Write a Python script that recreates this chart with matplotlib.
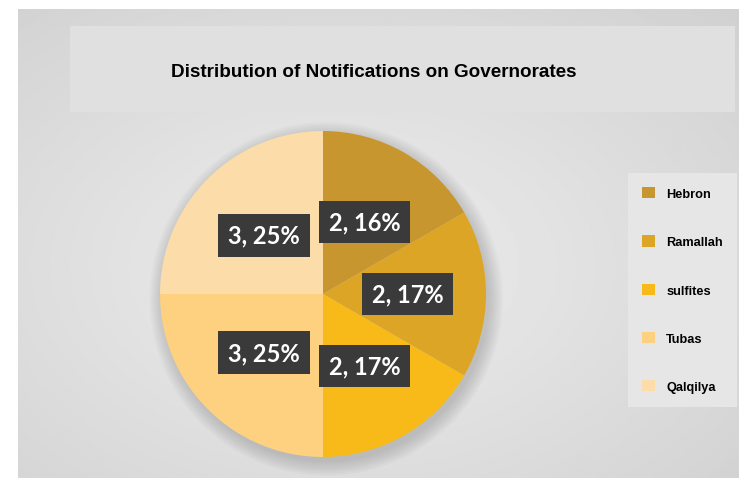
#!/usr/bin/env python3
"""Pie chart: distribution of notifications on governorates."""

import numpy as np
import matplotlib.pyplot as plt
from matplotlib.patches import Rectangle

governorates = ["Hebron", "Ramallah", "sulfites", "Tubas", "Qalqilya"]
notifications = [2, 2, 2, 3, 3]
percent_labels = ["16%", "17%", "17%", "25%", "25%"]
colors = ["#C8962E", "#DDA526", "#F7BA18", "#FDD17F", "#FCDCA8"]

W, H = 741, 481
fig = plt.figure(figsize=(W / 100, H / 100), dpi=100)
fig.patch.set_facecolor("white")

# background panel with a soft radial gradient
bg = fig.add_axes([18 / W, 1 - 479 / H, 721 / W, 469 / H])
yy, xx = np.mgrid[0:1:200j, 0:1:300j]
d = np.sqrt(((xx - 0.45) / 0.9) ** 2 + ((yy - 0.45) / 0.9) ** 2)
shade = 0.93 - 0.13 * np.clip(d, 0, 1)
bg.imshow(shade, cmap="gray", vmin=0, vmax=1, aspect="auto",
          extent=[0, 1, 0, 1], origin="lower")
bg.axis("off")

# title band
fig.patches.append(Rectangle((70 / W, 1 - 113 / H), 665 / W, 86 / H,
                             transform=fig.transFigure, facecolor="#E0E0E0",
                             edgecolor="none", zorder=1))
fig.text(374 / W, 1 - 73 / H, "Distribution of Notifications on Governorates",
         ha="center", va="center", fontsize=13.6, fontweight="bold",
         family=["Liberation Sans"], zorder=2)

cx, cy, r = 323, 295, 163
ax = fig.add_axes([(cx - r) / W, (H - cy - r) / H, 2 * r / W, 2 * r / H])
ax.set_facecolor("none")

# soft shadow under the pie
for k in range(8):
    ax.add_patch(plt.Circle((0.02, -0.03), 1.0 + 0.012 * k,
                            color="black", alpha=0.018, lw=0, clip_on=False))

wedges, _ = ax.pie(notifications, colors=colors, startangle=90,
                   counterclock=False, radius=1.0,
                   wedgeprops=dict(linewidth=0))
ax.set_xlim(-1, 1)
ax.set_ylim(-1, 1)
ax.set_aspect("equal")
ax.axis("off")

for w, n, p in zip(wedges, notifications, percent_labels):
    ang = np.deg2rad((w.theta1 + w.theta2) / 2)
    dist = 0.52 if n == 2 and abs(np.cos(ang)) > 0.9 else 0.51
    x, y = dist * np.cos(ang), dist * np.sin(ang)
    ax.text(x, y, f"{n}, {p}", ha="center", va="center", color="white",
            fontsize=17, fontweight="bold", family=["Lato", "DejaVu Sans"],
            bbox=dict(boxstyle="square,pad=0.42", facecolor="#3A3A3A",
                      edgecolor="none"), zorder=5)

leg = fig.legend(wedges, governorates, loc="upper left",
                 bbox_to_anchor=(628 / W, 1 - 174 / H),
                 prop=dict(family="Liberation Sans", weight="bold", size=9.2),
                 frameon=True, fancybox=False, handlelength=1.0,
                 handleheight=1.0, labelspacing=2.75, borderpad=1.1,
                 handletextpad=0.9, borderaxespad=0)
leg.get_frame().set_facecolor("#E6E6E6")
leg.get_frame().set_edgecolor("none")
leg.get_frame().set_alpha(1)

fig.savefig("out.png", dpi=100)
